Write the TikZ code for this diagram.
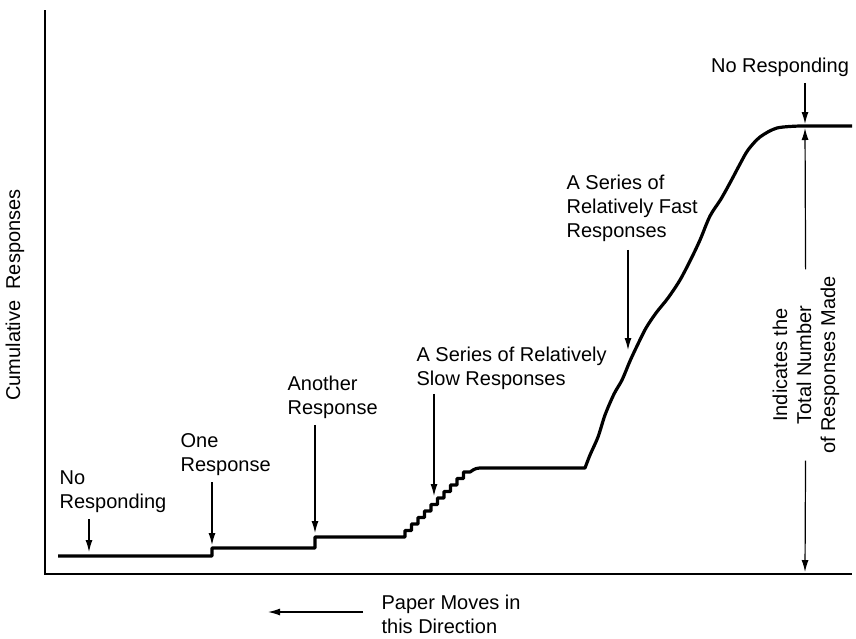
\documentclass[tikz,border=0pt]{standalone}
\usepackage{fontspec}
\setmainfont{Liberation Sans}
\usetikzlibrary{positioning,arrows.meta}
\tikzstyle{note}=[align=left,inner sep=0pt,font=\fontsize{10}{12}\selectfont]
\tikzstyle{record}=[line width=1.6pt,line join=round]
\newcommand{\newNote}[4]{\node[note,#3](#1) at #4 {#2};}
\newcommand{\newPointer}[3]{\draw[->,#3] (#1) -- (#2);}

\begin{document}
\begin{tikzpicture}[x=0.5pt,y=-0.5pt,
      >={Latex[length=6pt,width=3.5pt]},line width=0.6pt
      ]
      \useasboundingbox (0,0) rectangle (856,638);
      % axes
      \coordinate (O) at (45,574);
      \draw[line width=1pt] (45,10) -- (O) -- (852,574);
      \node[note,rotate=90] (cum) at (15,295) {Cumulative\ \ Responses};

      % the record
      \draw[record] (58,556) -- (212,556) -- (212,548) -- (315,548) -- (315,537) -- (405,537)
        \foreach \i in {1,...,10} { -- ++(0,-6.5) -- ++(6.5,0) }
        .. controls (476,468) .. (484,468) -- (585,468)
        -- plot[smooth] coordinates {(585,468) (590,455) (598,437) (605,415) (614,394)
          (622,380) (630,361) (637,346) (646,328) (656,313) (668,298) (680,280) (691,259)
          (700,240) (710,216) (721,199) (731,181) (740,164) (748,150) (760,137) (777,128)
          (800,126)} -- (852,126);

      % end points of pointers
      \coordinate (p1) at (89,552);
      \coordinate (p2) at (212,545);
      \coordinate (p3) at (315,533);
      \coordinate (p4) at (434,496);
      \coordinate (p5) at (628,350);
      \coordinate (p6) at (805,124);
      \coordinate (top) at (805,128);
      \coordinate (bot) at (805,572);
      \coordinate (pl) at (268,612);

      \newNote{nr1}{No\\Responding}{anchor=north west}{(59,470)}
      \newNote{one}{One\\Response}{anchor=north west}{(180,433)}
      \newNote{ano}{Another\\Response}{anchor=north west}{(287,375)}
      \newNote{slow}{A Series of Relatively\\Slow Responses}{anchor=north west}{(416,346)}
      \newNote{fast}{A Series of\\Relatively Fast\\Responses}{anchor=north west}{(566,174)}
      \newNote{nr2}{No Responding}{anchor=north}{(780,57)}
      \newNote{tot}{Indicates the\\Total Number\\of Responses Made}{align=center,rotate=90,inner sep=3pt}{(806,365)}
      \newNote{pm}{Paper Moves in\\this Direction}{anchor=north west}{(381,594)}

      \newPointer{nr1.south -| p1}{p1}{shorten <=3pt}
      \newPointer{one.south -| p2}{p2}{shorten <=3pt}
      \newPointer{ano.south -| p3}{p3}{shorten <=3pt}
      \newPointer{slow.south -| p4}{p4}{shorten <=2pt}
      \newPointer{fast.south -| p5}{p5}{shorten <=4pt}
      \newPointer{nr2.south -| p6}{p6}{shorten <=3pt}
      \newPointer{tot}{top}{}
      \newPointer{tot}{bot}{}
      \newPointer{pm.west |- pl}{pl}{shorten <=9pt}
\end{tikzpicture}
\end{document}
